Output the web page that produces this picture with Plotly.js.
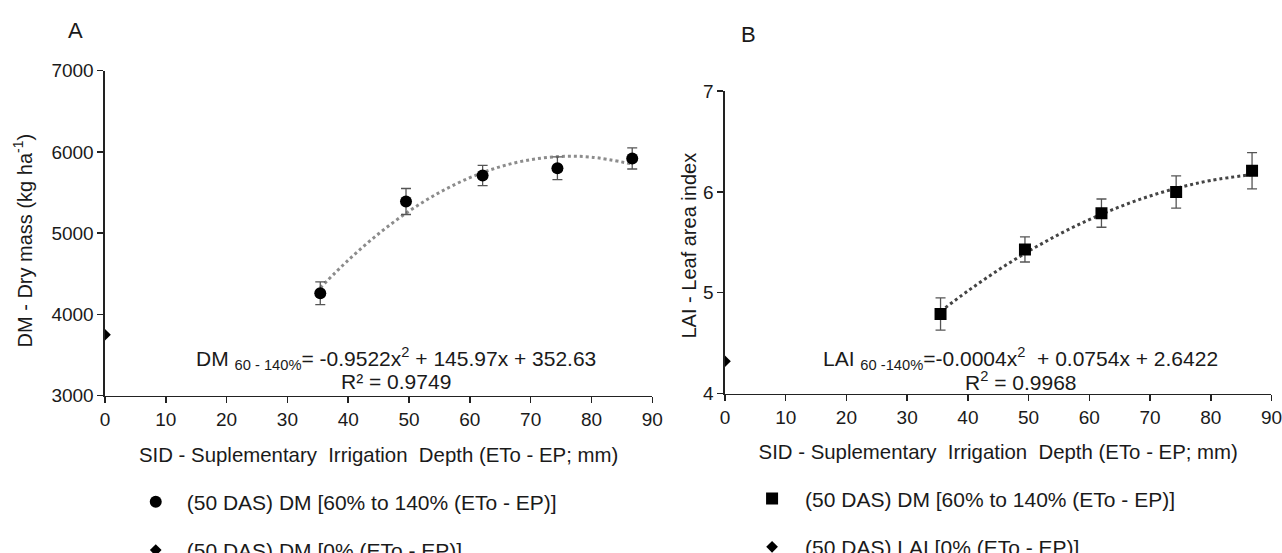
<!DOCTYPE html>
<html>
<head>
<meta charset="utf-8">
<script src="https://cdn.plot.ly/plotly-3.0.1.min.js"></script>
<style>html,body{margin:0;padding:0;background:#fff;}#chart{width:1282px;height:553px;}</style>
</head>
<body>
<div id="chart"></div>
<script>
// ---- Panel A: dry mass ----
const sidA = [35.4, 49.5, 62.1, 74.4, 86.7];
const dmA = [4260, 5390, 5710, 5800, 5920];
const dmErrA = [140, 160, 125, 140, 130];
const sidZeroA = [0];
const dmZeroA = [3750];
// trendline (DM 60-140%)
const trendXA = [35.4, 40, 45, 50, 55, 60, 65, 70, 75, 80, 86.7];
const trendYA = [4327, 4668, 4993, 5271, 5501, 5683, 5818, 5905, 5944, 5936, 5851];

// ---- Panel B: leaf area index ----
const sidB = [35.5, 49.4, 62.0, 74.3, 86.8];
const laiB = [4.79, 5.43, 5.79, 6.00, 6.21];
const laiErrB = [0.16, 0.125, 0.14, 0.16, 0.18];
const sidZeroB = [0];
const laiZeroB = [4.32];
const trendXB = [35.5, 40, 45, 50, 55, 60, 65, 70, 75, 80, 86.8];
const trendYB = [4.815, 5.018, 5.225, 5.412, 5.579, 5.726, 5.853, 5.960, 6.047, 6.114, 6.173];

const xTicks = [0, 10, 20, 30, 40, 50, 60, 70, 80, 90];
const yTicksA = [3000, 4000, 5000, 6000, 7000];
const yTicksB = [4, 5, 6, 7];

const FONT = 'Liberation Sans, Arial, sans-serif';
const TXT = '#1a1a1a';

const traces = [
  {x: trendXA, y: trendYA, xaxis: 'x', yaxis: 'y', mode: 'lines', type: 'scatter',
   line: {color: '#8c8c8c', width: 3, dash: 'dot', shape: 'spline'}, showlegend: false, hoverinfo: 'skip'},
  {x: sidA, y: dmA, xaxis: 'x', yaxis: 'y', mode: 'markers', type: 'scatter',
   name: '(50 DAS) DM [60% to 140% (ETo - EP)]', legend: 'legend', legendgroup: 'a1',
   marker: {symbol: 'circle', size: 12, color: '#000'},
   error_y: {type: 'data', array: dmErrA, color: '#555', thickness: 1.3, width: 5}},
  {x: sidZeroA, y: dmZeroA, xaxis: 'x', yaxis: 'y', mode: 'markers', type: 'scatter',
   name: '(50 DAS) DM [0% (ETo - EP)]', legend: 'legend', legendgroup: 'a2',
   marker: {symbol: 'diamond', size: 9, color: '#000'}},

  {x: trendXB, y: trendYB, xaxis: 'x2', yaxis: 'y2', mode: 'lines', type: 'scatter',
   line: {color: '#444', width: 3, dash: 'dot', shape: 'spline'}, showlegend: false, hoverinfo: 'skip'},
  {x: sidB, y: laiB, xaxis: 'x2', yaxis: 'y2', mode: 'markers', type: 'scatter',
   name: '(50 DAS) DM [60% to 140% (ETo - EP)]', legend: 'legend2', legendgroup: 'b1',
   marker: {symbol: 'square', size: 12, color: '#000'},
   error_y: {type: 'data', array: laiErrB, color: '#555', thickness: 1.3, width: 5}},
  {x: sidZeroB, y: laiZeroB, xaxis: 'x2', yaxis: 'y2', mode: 'markers', type: 'scatter',
   name: '(50 DAS) LAI [0% (ETo - EP)]', legend: 'legend2', legendgroup: 'b2',
   marker: {symbol: 'diamond', size: 9, color: '#000'}}
];

const axBase = {
  showgrid: false, zeroline: false, showline: true, linecolor: '#222', linewidth: 1.5,
  ticks: 'outside', ticklen: 6, tickcolor: '#222', tickwidth: 1.5, ticklabeloverflow: 'allow',
  tickfont: {family: FONT, size: 19, color: TXT}, mirror: false, fixedrange: true, automargin: false
};

const legBase = {
  font: {family: FONT, size: 21, color: TXT}, bgcolor: 'rgba(0,0,0,0)',
  xref: 'paper', yref: 'paper', xanchor: 'left', yanchor: 'top',
  tracegroupgap: 18, traceorder: 'grouped', itemwidth: 52
};

const ann = (text, x, y, size, extra) => Object.assign({
  text: text, x: x, y: y, xref: 'paper', yref: 'paper', showarrow: false,
  xanchor: 'center', yanchor: 'middle', font: {family: FONT, size: size, color: TXT}
}, extra || {});

const xTitle = 'SID - Suplementary  Irrigation  Depth (ETo - EP; mm)';

const layout = {
  width: 1282, height: 553,
  margin: {l: 0, r: 0, t: 0, b: 0, autoexpand: false},
  paper_bgcolor: '#fff', plot_bgcolor: '#fff',
  font: {family: FONT, color: TXT},
  xaxis: Object.assign({}, axBase, {domain: [0.0819, 0.5088], range: [0, 90], tickvals: xTicks, anchor: 'y',
    title: {text: xTitle, font: {family: FONT, size: 20.4, color: TXT}, standoff: 18}}),
  yaxis: Object.assign({}, axBase, {domain: [0.2845, 0.8722], range: [3000, 7000], tickvals: yTicksA, anchor: 'x'}),
  xaxis2: Object.assign({}, axBase, {domain: [0.5655, 0.9918], range: [0, 90], tickvals: xTicks, anchor: 'y2',
    title: {text: xTitle, font: {family: FONT, size: 20.4, color: TXT}, standoff: 18}}),
  yaxis2: Object.assign({}, axBase, {domain: [0.2884, 0.8351], range: [4, 7], tickvals: yTicksB, anchor: 'x2'}),
  showlegend: true,
  legend: Object.assign({}, legBase, {x: 0.0973, y: 0.129}),
  legend2: Object.assign({}, legBase, {x: 0.5765, y: 0.135, itemwidth: 56}),
  annotations: [
    ann('A', 0.0591, 0.945, 22),
    ann('B', 0.5835, 0.937, 22),
    ann('DM - Dry mass (kg ha<sup>-1</sup>)', 0.0179, 0.5651, 20, {textangle: -90}),
    ann('LAI - Leaf area index', 0.5371, 0.5552, 20, {textangle: -90}),
    ann('DM <sub>60 - 140%</sub>= -0.9522x<sup>2</sup> + 145.97x + 352.63', 0.3089, 0.3526, 21),
    ann('R² = 0.9749', 0.3089, 0.311, 21),
    ann('LAI <sub>60 -140%</sub>=-0.0004x<sup>2</sup>  + 0.0754x + 2.6422', 0.7964, 0.3526, 21),
    ann('R<sup>2</sup> = 0.9968', 0.7964, 0.311, 21)
  ]
};

Plotly.newPlot('chart', traces, layout, {displayModeBar: false, staticPlot: true});
</script>
</body>
</html>
